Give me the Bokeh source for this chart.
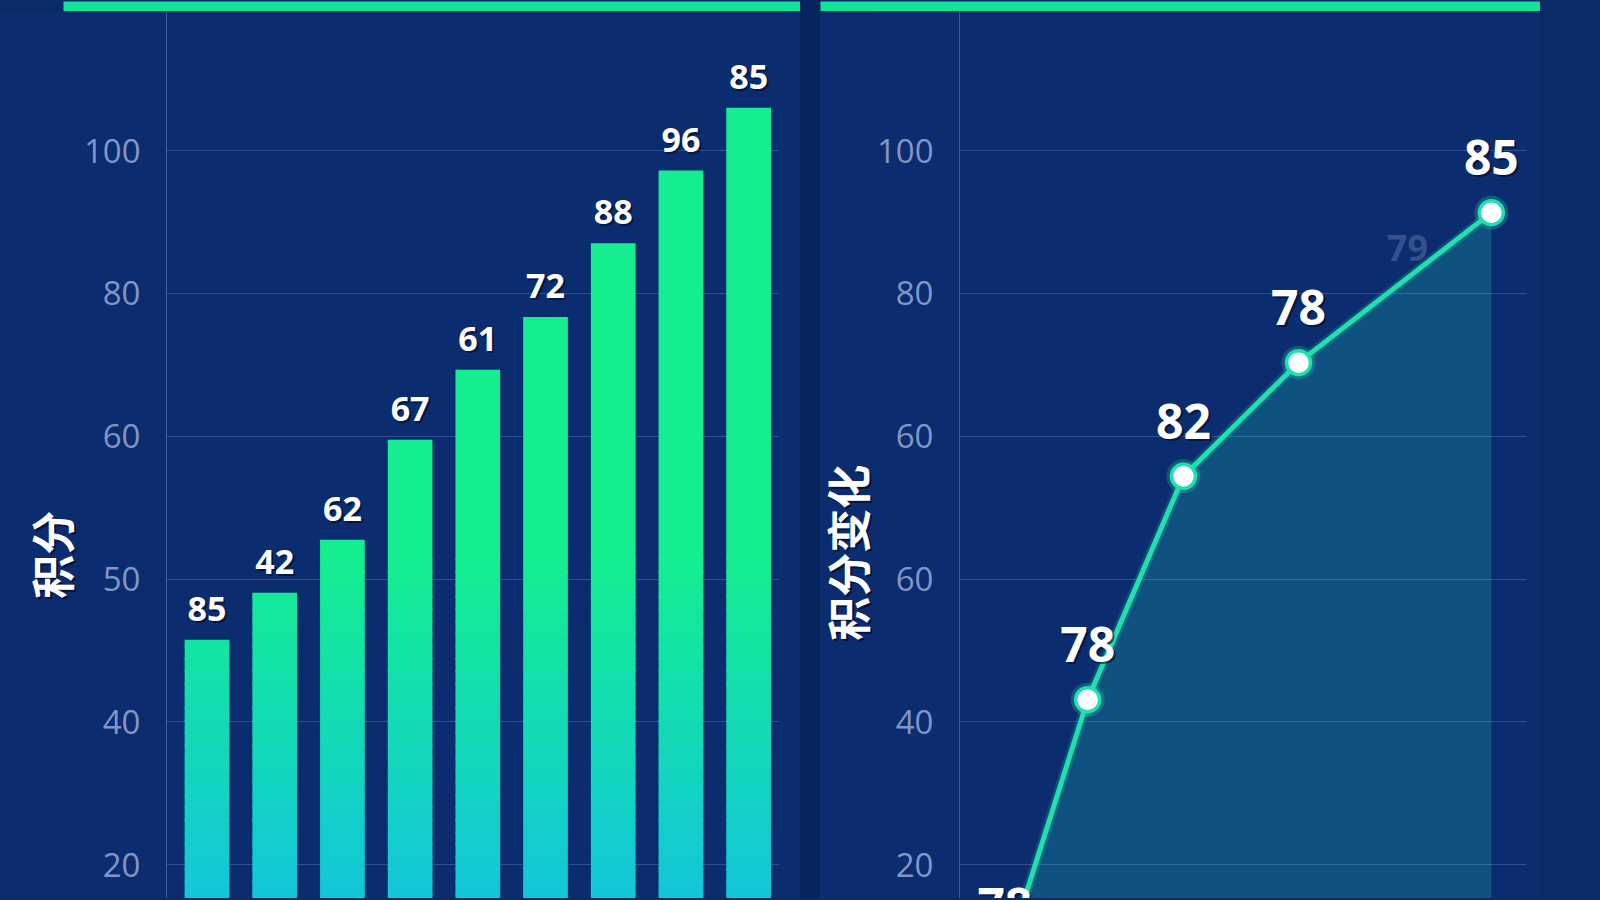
import numpy as np
from math import pi
from bokeh.plotting import figure
from bokeh.models import ColumnDataSource, Range1d, FixedTicker
from bokeh.layouts import row, column
from bokeh.core.properties import value
from bokeh.embed import file_html
from bokeh.resources import INLINE

# ---------------- data ----------------
bar_x = [1, 2, 3, 4, 5, 6, 7, 8, 9]
bar_values = [31.5, 38.1, 45.5, 59.5, 69.3, 76.7, 87.0, 97.2, 106.0]
bar_labels = ["85", "42", "62", "67", "61", "72", "88", "96", "85"]

line_x = [0.8, 2.26, 3.95, 5.98, 9.38]
line_values = [-13.4, 23.1, 54.4, 70.3, 91.3]
line_labels = ["78", "78", "82", "78", "85"]

ghost_x = [7.9]
ghost_values = [78.7]
ghost_labels = ["79"]

tick_values = [100, 80, 60, 40, 20, 0]
left_tick_labels = ["100", "80", "60", "50", "40", "20"]
right_tick_labels = ["100", "80", "60", "60", "40", "20"]

y_label_left = "积分"
y_label_right = "积分变化"

# ---------------- style ----------------
PANEL = "#0b2c6e"
OUTER = "#0a2a68"
GAP = "#08245c"
GREEN = "#12e39b"
GRID = "#5b7bbd"
TICK_TXT = "#8196c6"
LINE_C = "#1fe0ae"
Y0, Y1 = -4.72, 119.46
C_TOP = np.array([20, 238, 144])
C_BOT = np.array([18, 198, 218])
V_GREEN = 42.6
FH = 887
SH = 11


def blank(w, h, color):
    f = figure(width=w, height=h, toolbar_location=None, output_backend="svg",
               x_axis_location=None, y_axis_location=None, min_border=0,
               outline_line_color=None, background_fill_color=color,
               border_fill_color=color, x_range=Range1d(0, 1), y_range=Range1d(0, 1))
    f.grid.visible = False
    return f


def style_fig(p, labels):
    p.yaxis.ticker = FixedTicker(ticks=tick_values)
    p.yaxis.major_label_overrides = {t: l for t, l in zip(tick_values, labels)}
    p.yaxis.axis_line_color = GRID
    p.yaxis.axis_line_alpha = 0.6
    p.yaxis.major_tick_line_color = None
    p.yaxis.minor_tick_line_color = None
    p.yaxis.major_label_text_color = TICK_TXT
    p.yaxis.major_label_text_font = "Open Sans"
    p.yaxis.major_label_text_font_size = "33px"
    p.yaxis.major_label_standoff = 20
    p.ygrid.grid_line_color = GRID
    p.ygrid.grid_line_alpha = 0.45
    p.xgrid.grid_line_color = None


def label_panel(w, xc, yc, text):
    f = figure(width=w, height=FH, toolbar_location=None, output_backend="svg",
               x_axis_location=None, y_axis_location=None, min_border=0,
               outline_line_color=None, background_fill_color=PANEL,
               border_fill_color=PANEL, x_range=Range1d(0, w), y_range=Range1d(Y0, Y1))
    f.grid.visible = False
    src = ColumnDataSource(dict(x=[xc], y=[yc], t=[text]))
    f.text(x="x", y="y", text="t", source=src, angle=pi / 2, x_offset=2, y_offset=2,
           text_align="center", text_baseline="middle", text_font=value("Noto Sans CJK SC"),
           text_font_style="bold", text_font_size="44px", text_color="#010a24", text_alpha=0.7)
    f.text(x="x", y="y", text="t", source=src, angle=pi / 2,
           text_align="center", text_baseline="middle", text_font=value("Noto Sans CJK SC"),
           text_font_style="bold", text_font_size="44px", text_color="white")
    return f


# ---------------- left: bars ----------------
pl = figure(width=722, height=FH, x_range=Range1d(0.402, 9.456), y_range=Range1d(Y0, Y1),
            x_axis_location=None, min_border_left=88, min_border_right=21,
            min_border_top=0, min_border_bottom=0, background_fill_color=PANEL,
            border_fill_color=PANEL, outline_line_color=None,
            output_backend="svg", toolbar_location=None)
style_fig(pl, left_tick_labels)

bw = 0.66
edges = np.linspace(Y0 - 3, V_GREEN, 30)
L, R, T, B, C = [], [], [], [], []
for x, v in zip(bar_x, bar_values):
    for k in range(len(edges) - 1):
        b, t = edges[k], min(edges[k + 1], v)
        if b >= v:
            break
        mid = 0.5 * (b + t)
        s = np.clip((mid - Y0) / (V_GREEN - Y0), 0, 1)
        c = C_BOT + s * (C_TOP - C_BOT)
        L.append(x - bw / 2); R.append(x + bw / 2); B.append(b); T.append(min(t + 0.25, v))
        C.append("#%02x%02x%02x" % tuple(int(round(q)) for q in c))
    if v > V_GREEN:
        L.append(x - bw / 2); R.append(x + bw / 2); B.append(V_GREEN); T.append(v)
        C.append("#%02x%02x%02x" % tuple(C_TOP))
seg = ColumnDataSource(dict(left=L, right=R, top=T, bottom=B, color=C))
pl.quad(left="left", right="right", top="top", bottom="bottom", fill_color="color",
        line_color=None, source=seg)

bsrc = ColumnDataSource(dict(x=bar_x, y=bar_values, t=bar_labels))
pl.text(x="x", y="y", text="t", source=bsrc, x_offset=2, y_offset=-29, text_align="center",
        text_baseline="middle", text_font=value("Open Sans"), text_font_style="bold",
        text_font_size="34px", text_color="#010a24", text_alpha=0.6)
pl.text(x="x", y="y", text="t", source=bsrc, y_offset=-31, text_align="center",
        text_baseline="middle", text_font=value("Open Sans"), text_font_style="bold",
        text_font_size="34px", text_color="white")

# ---------------- right: line ----------------
pr = figure(width=668, height=FH, x_range=Range1d(0, 10), y_range=Range1d(Y0, Y1),
            x_axis_location=None, min_border_left=87, min_border_right=14,
            min_border_top=0, min_border_bottom=0, background_fill_color=PANEL,
            border_fill_color=PANEL, outline_line_color=None,
            output_backend="svg", toolbar_location=None)
style_fig(pr, right_tick_labels)

lsrc = ColumnDataSource(dict(x=line_x, y=line_values, t=line_labels,
                             base=[Y0 - 30] * len(line_x)))
pr.varea(x="x", y1="base", y2="y", source=lsrc, fill_color="#1ccdb8", fill_alpha=0.24)
pr.line(x="x", y="y", source=lsrc, line_color=LINE_C, line_width=10, line_alpha=0.18)
pr.line(x="x", y="y", source=lsrc, line_color=LINE_C, line_width=5)
pr.scatter(x="x", y="y", source=lsrc, size=34, fill_color=LINE_C, fill_alpha=0.25, line_color=None)
pr.scatter(x="x", y="y", source=lsrc, size=24, fill_color="white", line_color=LINE_C, line_width=3.5)

gsrc = ColumnDataSource(dict(x=ghost_x, y=ghost_values, t=ghost_labels))
pr.text(x="x", y="y", text="t", source=gsrc, y_offset=-55, text_align="center",
        text_baseline="middle", text_font=value("Open Sans"), text_font_style="bold",
        text_font_size="36px", text_color="#9fb2dc", text_alpha=0.3)

pr.text(x="x", y="y", text="t", source=lsrc, x_offset=2, y_offset=-53, text_align="center",
        text_baseline="middle", text_font=value("Open Sans"), text_font_style="bold",
        text_font_size="48px", text_color="#010a24", text_alpha=0.6)
pr.text(x="x", y="y", text="t", source=lsrc, y_offset=-55, text_align="center",
        text_baseline="middle", text_font=value("Open Sans"), text_font_style="bold",
        text_font_size="48px", text_color="white")

# ---------------- layout ----------------
lab_l = label_panel(78, 50, 43.4, y_label_left)
lab_r = label_panel(52, 26, 43.7, y_label_right)

left_col = column(row(blank(63, SH, OUTER), blank(737, SH, GREEN), spacing=0),
                  row(lab_l, pl, spacing=0), spacing=0)
right_col = column(blank(720, SH, GREEN), row(lab_r, pr, spacing=0), spacing=0)
layout = row(left_col, blank(20, SH + FH, GAP), right_col, blank(58, SH + FH, OUTER), spacing=0)

html = file_html(layout, INLINE, title="积分")
html = html.replace("</head>", "<style>body{background-color:%s;}</style></head>" % OUTER, 1)
open("out.html", "w").write(html)
